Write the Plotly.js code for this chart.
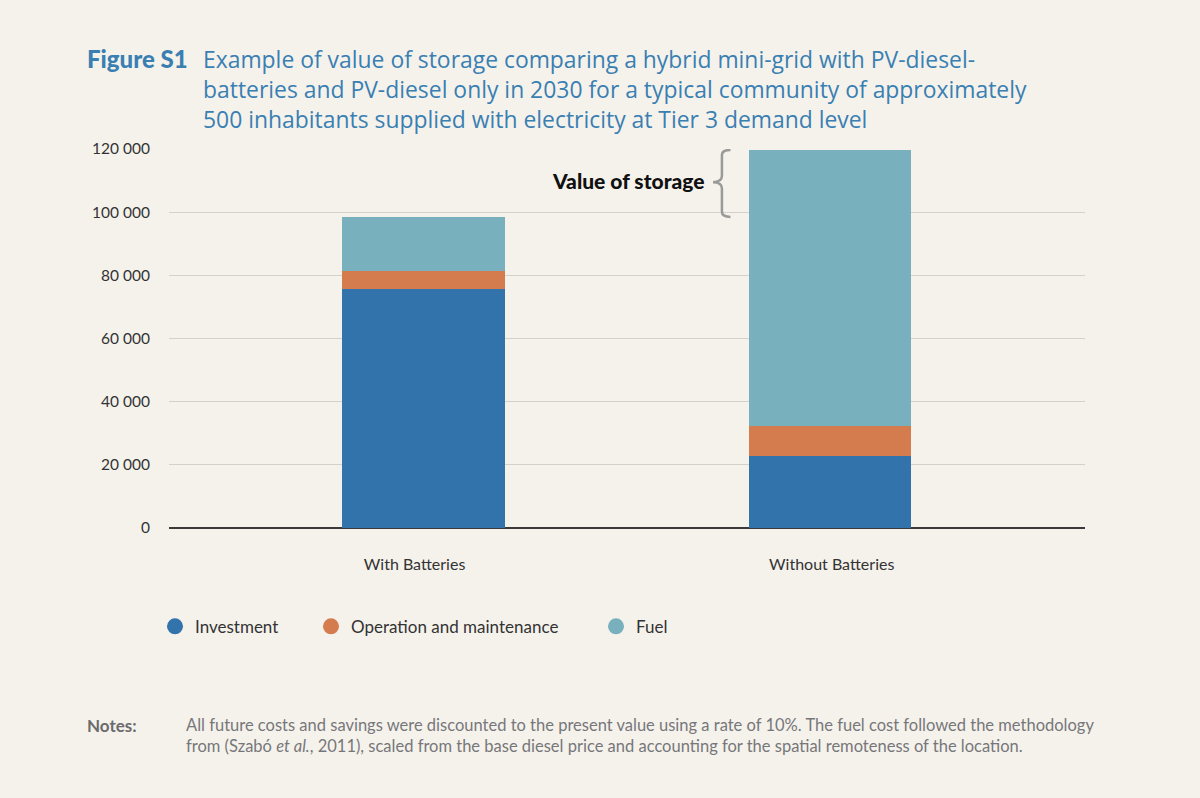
<!DOCTYPE html>
<html><head><meta charset="utf-8">
<script src="https://cdn.plot.ly/plotly-3.0.1.min.js"></script>
<style>html,body{margin:0;padding:0;background:#f5f2ec}</style></head>
<body><div id="chart" style="width:1200px;height:798px"></div>
<script>
const categories = ["With Batteries", "Without Batteries"];
const investment = [75700, 22800];
const operation = [5700, 9500];
const fuel = [17100, 87400];
const seriesNames = ["Investment", "Operation and maintenance", "Fuel"];
const seriesColors = ["#3173aa", "#d47c4e", "#78b0bd"];
const yTicks = [0, 20000, 40000, 60000, 80000, 100000, 120000];
const titleText = "Example of value of storage comparing a hybrid mini-grid with PV-diesel-<br>batteries and PV-diesel only in 2030 for a typical community of approximately<br>500 inhabitants supplied with electricity at Tier 3 demand level";
const figureLabel = "Figure S1";
const notesLabel = "Notes:";
const notesText = "All future costs and savings were discounted to the present value using a rate of 10%. The fuel cost followed the methodology<br>from (Szabó <i>et al.</i>, 2011), scaled from the base diesel price and accounting for the spatial remoteness of the location.";
const calloutText = "Value of storage";

const xPos = categories.map((_, i) => i);
const totals = xPos.map(i => investment[i] + operation[i] + fuel[i]);
const values = [investment, operation, fuel];
const font = "Lato, 'Open Sans', sans-serif";
const titleFont = "'Open Sans', Lato, sans-serif";
const legendIds = ["legend", "legend2", "legend3"];
const legendLeft = [155, 311, 596];

const bars = values.map((v, k) => ({
  type: "bar", x: xPos, y: v, width: 0.4, name: seriesNames[k],
  marker: {color: seriesColors[k], line: {width: 0}}, showlegend: false, hoverinfo: "y+name"
}));
const legendTraces = seriesNames.map((n, k) => ({
  type: "scatter", mode: "markers", x: [null], y: [null], name: n, legend: legendIds[k],
  marker: {color: seriesColors[k], size: 18, symbol: "circle"}, showlegend: true
}));

// Curly brace spanning the difference between the two totals
const lo = totals[0], hi = totals[1], mid = (lo + hi) / 2 + 400;
const bx = 0.734, bEnd = 0.755, bTip = 0.712, cy = 1600, cyT = 1000;
const bracePath = [
  `M${bEnd},${hi}`, `Q${bx},${hi} ${bx},${hi - cy}`,
  `L${bx},${mid + cyT * 2}`, `Q${bx},${mid} ${bTip},${mid}`,
  `Q${bx},${mid} ${bx},${mid - cyT * 2}`,
  `L${bx},${lo + cy}`, `Q${bx},${lo} ${bEnd},${lo}`
].join(" ");

const layout = {
  width: 1200, height: 798,
  paper_bgcolor: "#f5f2ec", plot_bgcolor: "#f5f2ec",
  margin: {l: 169, r: 115, t: 149, b: 270, pad: 0},
  barmode: "stack", separators: ". ",
  font: {family: font, color: "#333333", size: 15.5},
  title: {text: titleText, x: (203 - 169) / 916, xanchor: "left", xref: "paper",
    y: 1 - 68 / 798, yanchor: "top", automargin: false,
    font: {family: titleFont, size: 22.9, color: "#3a7fb2"}},
  xaxis: {range: [-0.626, 1.627], tickmode: "array", tickvals: [-0.022, 1.004], ticktext: categories,
    showgrid: false, zeroline: false, showline: false, ticks: "", ticklabelstandoff: 25,
    tickfont: {family: font, size: 16, color: "#333333"}},
  yaxis: {range: [0, 120000], tickmode: "array", tickvals: yTicks, tickformat: ",d",
    gridcolor: "#d4d1ca", gridwidth: 1.4, zeroline: true, zerolinecolor: "#3a3a3a", zerolinewidth: 1.8,
    showline: false, ticks: "", ticklabelstandoff: 18,
    tickfont: {family: font, size: 15.5, color: "#333333"}},
  shapes: [{type: "path", xref: "x", yref: "y", path: bracePath,
    line: {color: "#9a9a98", width: 2.5}, fillcolor: "rgba(0,0,0,0)"}],
  annotations: [
    {text: figureLabel, xref: "paper", yref: "paper", x: -84 / 916, y: 1 + 91 / 379,
     xanchor: "left", yanchor: "middle", showarrow: false,
     font: {family: font, size: 24, weight: 900, color: "#3a7fb2"}},
    {text: calloutText, xref: "x", yref: "y", x: 0.695, y: mid, yshift: 2, xanchor: "right", yanchor: "middle",
     showarrow: false, font: {family: font, size: 21, weight: 900, color: "#111111"}},
    {text: "<b>" + notesLabel + "</b>", xref: "paper", yref: "paper", x: -84 / 916, y: -197 / 379,
     xanchor: "left", yanchor: "middle", showarrow: false, font: {family: font, size: 17, color: "#6b6b6b"}},
    {text: notesText, xref: "paper", yref: "paper", x: 15 / 916, y: -207 / 379, xanchor: "left", yanchor: "middle",
     align: "left", showarrow: false, font: {family: font, size: 16.5, color: "#77777a"}}
  ]
};
legendIds.forEach((id, k) => {
  layout[id] = {orientation: "h", x: (legendLeft[k] - 169) / 916, xanchor: "left", y: -0.2 - 5 / 379, yanchor: "top",
    itemsizing: "trace", font: {family: font, size: 17, color: "#333333"}, bgcolor: "rgba(0,0,0,0)"};
});
Plotly.newPlot("chart", bars.concat(legendTraces), layout, {displayModeBar: false, responsive: false});
</script></body></html>
